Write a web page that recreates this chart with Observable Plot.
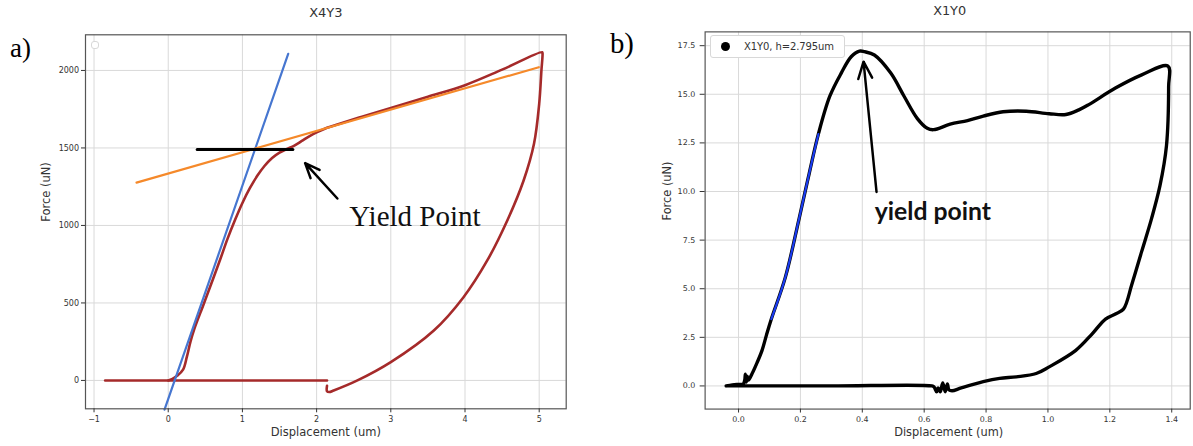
<!DOCTYPE html>
<html>
<head>
<meta charset="utf-8">
<script src="https://cdn.jsdelivr.net/npm/d3@7"></script>
<script src="https://cdn.jsdelivr.net/npm/@observablehq/plot@0.6"></script>
<style>
  html, body { margin: 0; padding: 0; background: #fff; }
  body { width: 1193px; height: 446px; overflow: hidden; position: relative; font-family: "DejaVu Sans", sans-serif; }
  .panel { position: absolute; top: 0; }
  .legend { position: absolute; background: #fff; border: 1px solid #d8d8d8; border-radius: 3px; box-sizing: border-box; }
</style>
</head>
<body>
<div id="pa" class="panel" style="left:0px"></div>
<div id="pb" class="panel" style="left:597px"></div>
<div class="legend" style="left:91px;top:41px;width:8px;height:8px;"></div>
<div class="legend" style="left:710px;top:35px;width:135px;height:23px;display:flex;align-items:center;">
  <span style="display:inline-block;width:9px;height:9px;border-radius:50%;background:#000;margin-left:10px;"></span>
  <span style="font-size:10px;color:#333;margin-left:14px;letter-spacing:-0.1px;">X1Y0, h=2.795um</span>
</div>
<script>
// ---------- Panel a) X4Y3 ----------
const aTitle = "X4Y3";
const aXTicks = [-1, 0, 1, 2, 3, 4, 5];
const aYTicks = [0, 500, 1000, 1500, 2000];
// zero-force baseline
const aBaseDisp = [-0.85, 2.14];
const aBaseForce = [0, 0];
// loading + unloading curve
const aCurveDisp = [0.0, 0.05, 0.12, 0.2, 0.25, 0.3, 0.35, 0.48, 0.6, 0.7, 0.8, 0.9, 1.0, 1.1, 1.2, 1.3, 1.4, 1.5, 1.6, 1.7, 1.8, 1.9, 2.0, 2.14, 2.3, 2.6, 3.0, 3.5, 4.0, 4.5, 5.04,
                    5.045, 5.03, 5.0, 4.93, 4.79, 4.57, 4.30, 3.98, 3.58, 3.0, 2.55, 2.23, 2.17, 2.14, 2.14];
const aCurveForce = [0, 8, 30, 70, 150, 250, 330, 495, 650, 780, 915, 1035, 1145, 1240, 1320, 1385, 1435, 1470, 1493, 1515, 1545, 1575, 1600, 1630, 1655, 1700, 1758, 1830, 1905, 2005, 2118,
                     2110, 2000, 1785, 1527, 1290, 1032, 774, 537, 322, 118, 0, -65, -75, -70, -35];
// elastic fit (blue) and plastic fit (orange)
const aElasticDisp = [-0.05, 1.617];
const aElasticForce = [-189, 2107];
const aPlasticDisp = [-0.427, 4.995];
const aPlasticForce = [1276, 2021];
// yield level marker (black)
const aYieldDisp = [0.39, 1.68];
const aYieldForce = [1490, 1490];
// annotation
const aArrowFrom = [2.28, 1174];
const aArrowTo = [1.845, 1402];
const aNoteAt = [2.44, 1054];
const aNote = "Yield Point";

// ---------- Panel b) X1Y0 ----------
const bTitle = "X1Y0";
const bXTicks = [0.0, 0.2, 0.4, 0.6, 0.8, 1.0, 1.2, 1.4];
const bYTicks = [0.0, 2.5, 5.0, 7.5, 10.0, 12.5, 15.0, 17.5];
const bCurveDisp = [-0.04, -0.02, 0.0, 0.015, 0.02, 0.022, 0.025, 0.028, 0.032, 0.044, 0.06, 0.076, 0.09, 0.106, 0.151, 0.196, 0.228, 0.258, 0.295, 0.332, 0.364, 0.391, 0.407, 0.439, 0.492, 0.535, 0.578, 0.61, 0.63, 0.684, 0.74, 0.791, 0.855, 0.93, 1.004, 1.058, 1.1, 1.132, 1.218, 1.303, 1.388,
                    1.39, 1.383, 1.362, 1.335, 1.303, 1.271, 1.244, 1.218, 1.186, 1.143, 1.09, 1.004, 0.962, 0.898, 0.844, 0.791, 0.72, 0.69, 0.68, 0.675, 0.668, 0.66, 0.652, 0.645, 0.64, 0.632, 0.625, 0.3, -0.04];
const bCurveForce = [0.0, 0.05, 0.08, 0.1, 0.3, 0.6, 0.2, 0.5, 0.3, 0.64, 1.2, 1.83, 2.6, 3.44, 5.57, 8.62, 10.9, 12.95, 14.9, 16.09, 16.93, 17.22, 17.19, 17.02, 16.09, 14.9, 13.75, 13.25, 13.18, 13.46, 13.65, 13.88, 14.1, 14.13, 14.0, 13.96, 14.2, 14.47, 15.32, 16.0, 16.45,
                     15.4, 12.35, 10.3, 8.62, 6.92, 5.22, 3.95, 3.7, 3.44, 2.68, 1.83, 0.98, 0.64, 0.47, 0.39, 0.22, -0.1, -0.25, -0.2, 0.1, -0.3, 0.15, -0.3, -0.1, -0.3, -0.05, 0.0, 0.0, 0.0];
const bFitDisp = [0.106, 0.151, 0.196, 0.228, 0.258];
const bFitForce = [3.44, 5.57, 8.62, 10.9, 12.95];
const bArrowFrom = [0.446, 9.98];
const bArrowTo = [0.404, 16.68];
const bNoteAt = [0.44, 8.94];
const bNote = "yield point";

const pts = (xs, ys) => xs.map((x, i) => ({x, y: ys[i]}));
const minus = d => (d < 0 ? "\u2212" + Math.abs(d) : String(d));
const gridColor = "#d9d9d9";
const frameColor = "#555";

const chartA = Plot.plot({
  width: 597, height: 446,
  marginLeft: 85, marginRight: 31.3, marginTop: 34.3, marginBottom: 37.7,
  x: {domain: [-1.115, 5.364]},
  y: {domain: [-183, 2230]},
  style: {fontFamily: "DejaVu Sans, sans-serif", fontSize: "8px", color: "#333", background: "transparent", overflow: "visible"},
  marks: [
    Plot.gridX(aXTicks, {stroke: gridColor, strokeOpacity: 1}),
    Plot.gridY(aYTicks, {stroke: gridColor, strokeOpacity: 1}),
    Plot.line(pts(aBaseDisp, aBaseForce), {x: "x", y: "y", stroke: "#a52a2a", strokeWidth: 2.6}),
    Plot.line(pts(aCurveDisp, aCurveForce), {x: "x", y: "y", stroke: "#a52a2a", strokeWidth: 2.6, curve: "catmull-rom"}),
    Plot.line(pts(aElasticDisp, aElasticForce), {x: "x", y: "y", stroke: "#4676d0", strokeWidth: 2.2}),
    Plot.line(pts(aPlasticDisp, aPlasticForce), {x: "x", y: "y", stroke: "#f5892a", strokeWidth: 2.2}),
    Plot.line(pts(aYieldDisp, aYieldForce), {x: "x", y: "y", stroke: "#000", strokeWidth: 3}),
    Plot.arrow([0], {x1: aArrowFrom[0], y1: aArrowFrom[1], x2: aArrowTo[0], y2: aArrowTo[1], stroke: "#000", strokeWidth: 2.5, headLength: 11, headAngle: 45}),
    Plot.text([aNote], {x: aNoteAt[0], y: aNoteAt[1], textAnchor: "start", fontFamily: "Liberation Serif, serif", fontSize: 29, fill: "#111"}),
    Plot.frame({stroke: frameColor, strokeWidth: 1.2}),
    Plot.axisX(aXTicks, {tickSize: 4, tickPadding: 3.5, tickFormat: minus, label: null, fontSize: 8}),
    Plot.axisY(aYTicks, {tickSize: 4, tickPadding: 2.5, tickFormat: d => String(d), label: null, fontSize: 8}),
    Plot.text([aTitle], {frameAnchor: "top", lineAnchor: "middle", dy: -22.3, fontSize: 13, fill: "#333"}),
    Plot.text(["Displacement (um)"], {frameAnchor: "bottom", lineAnchor: "middle", dy: 23.5, fontSize: 11.5, fill: "#333"}),
    Plot.text(["Force (uN)"], {frameAnchor: "left", lineAnchor: "middle", dx: -39, rotate: -90, fontSize: 11.5, fill: "#333"}),
    Plot.text(["a)"], {frameAnchor: "top-left", lineAnchor: "middle", dx: -75.4, dy: 14, textAnchor: "start", fontFamily: "Liberation Serif, serif", fontSize: 27, fill: "#000"})
  ]
});
document.getElementById("pa").append(chartA);

const chartB = Plot.plot({
  width: 602, height: 446,
  marginLeft: 108.7, marginRight: 3.3, marginTop: 31.7, marginBottom: 33.3,
  x: {domain: [-0.108, 1.4598]},
  y: {domain: [-1.19, 18.21]},
  style: {fontFamily: "DejaVu Sans, sans-serif", fontSize: "8px", color: "#333", background: "transparent", overflow: "visible"},
  marks: [
    Plot.gridX(bXTicks, {stroke: gridColor, strokeOpacity: 1}),
    Plot.gridY(bYTicks, {stroke: gridColor, strokeOpacity: 1}),
    Plot.line(pts(bCurveDisp, bCurveForce), {x: "x", y: "y", stroke: "#000", strokeWidth: 3.4, strokeLinejoin: "round", curve: "catmull-rom"}),
    Plot.line(pts(bFitDisp, bFitForce), {x: "x", y: "y", stroke: "#1a3cf0", strokeWidth: 2.2, curve: "catmull-rom"}),
    Plot.arrow([0], {x1: bArrowFrom[0], y1: bArrowFrom[1], x2: bArrowTo[0], y2: bArrowTo[1], stroke: "#000", strokeWidth: 2.5, headLength: 11, headAngle: 45}),
    Plot.text([bNote], {x: bNoteAt[0], y: bNoteAt[1], textAnchor: "start", fontFamily: "Lato, sans-serif", fontWeight: "bold", fontSize: 25, fill: "#111"}),
    Plot.frame({stroke: frameColor, strokeWidth: 1.2}),
    Plot.axisX(bXTicks, {tickSize: 4, tickPadding: 3, tickFormat: d3.format(".1f"), label: null, fontSize: 8}),
    Plot.axisY(bYTicks, {tickSize: 5, tickPadding: 5, tickFormat: d3.format(".1f"), label: null, fontSize: 8}),
    Plot.text([bTitle], {frameAnchor: "top", lineAnchor: "middle", dy: -21.7, dx: 2, fontSize: 13, fill: "#333"}),
    Plot.text(["Displacement (um)"], {frameAnchor: "bottom", lineAnchor: "middle", dy: 23, dx: 1, fontSize: 11.5, fill: "#333"}),
    Plot.text(["Force (uN)"], {frameAnchor: "left", lineAnchor: "middle", dx: -37.7, rotate: -90, fontSize: 11.5, fill: "#333"}),
    Plot.text(["b)"], {frameAnchor: "top-left", lineAnchor: "middle", dx: -96.1, dy: 12.3, textAnchor: "start", fontFamily: "Liberation Serif, serif", fontSize: 29, fill: "#000"})
  ]
});
document.getElementById("pb").append(chartB);
</script>
</body>
</html>
